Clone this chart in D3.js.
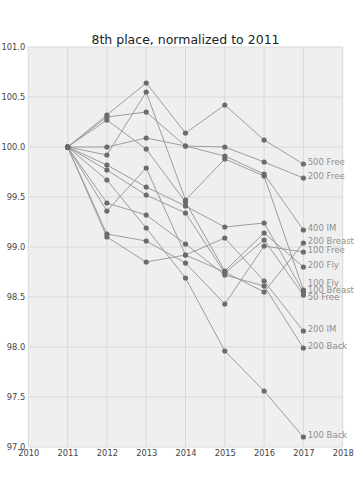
<!DOCTYPE html>
<html>
<head>
<meta charset="utf-8">
<script src="https://cdn.jsdelivr.net/npm/d3@7/dist/d3.min.js"></script>
<style>
html,body{margin:0;padding:0;background:#fff;}
svg{display:block;}
text{font-family:"DejaVu Sans",sans-serif;}
</style>
</head>
<body>
<svg id="chart" width="360" height="480"></svg>
<script>
const years = [2011, 2012, 2013, 2014, 2015, 2016, 2017];
const events = ["500 Free","200 Free","400 IM","200 Breast","100 Free","200 Fly","100 Fly","100 Breast","50 Free","200 IM","200 Back","100 Back"];
const free500   = [100, 100.32, 100.64, 100.14, 100.42, 100.07, 99.83];
const free200   = [100, 100.00, 100.09, 100.01, 100.00, 99.85, 99.69];
const im400     = [100, 100.30, 100.35, 100.01, 99.91, 99.73, 99.17];
const breast200 = [100, 99.36, 99.79, 98.92, 98.75, 98.55, 99.04];
const free100   = [100, 99.13, 99.06, 98.84, 98.43, 99.01, 98.95];
const fly200    = [100, 100.27, 99.98, 99.45, 98.76, 99.14, 98.80];
const fly100    = [100, 99.92, 100.55, 99.47, 99.88, 99.71, 98.57];
const breast100 = [100, 99.82, 99.60, 99.41, 99.20, 99.24, 98.55];
const free50    = [100, 99.77, 99.52, 99.34, 98.74, 99.07, 98.52];
const im200     = [100, 99.10, 98.85, 98.92, 99.09, 98.66, 98.16];
const back200   = [100, 99.44, 99.32, 99.03, 98.72, 98.61, 97.99];
const back100   = [100, 99.67, 99.19, 98.69, 97.96, 97.56, 97.10];
const seriesValues = [free500, free200, im400, breast200, free100, fly200, fly100, breast100, free50, im200, back200, back100];
const xTicks = [2010, 2011, 2012, 2013, 2014, 2015, 2016, 2017, 2018];
const yTicks = [97.0, 97.5, 98.0, 98.5, 99.0, 99.5, 100.0, 100.5, 101.0];
const title = "8th place, normalized to 2011";

const W = 360, H = 480;
const m = {left: 28.3, right: 17.3, top: 47, bottom: 33};
const svg = d3.select("#chart");

const x = d3.scaleLinear().domain([2010, 2018]).range([m.left, W - m.right]);
const y = d3.scaleLinear().domain([97, 101]).range([H - m.bottom, m.top]);

svg.append("rect")
  .attr("x", m.left).attr("y", m.top)
  .attr("width", W - m.left - m.right).attr("height", H - m.top - m.bottom)
  .attr("fill", "#efefef");

// grid
const g = svg.append("g");
g.selectAll("line.v").data(xTicks).join("line")
  .attr("x1", d => x(d)).attr("x2", d => x(d))
  .attr("y1", m.top).attr("y2", H - m.bottom)
  .attr("stroke", "#d9d9d9").attr("stroke-width", 1);
g.selectAll("line.h").data(yTicks).join("line")
  .attr("y1", d => y(d)).attr("y2", d => y(d))
  .attr("x1", m.left).attr("x2", W - m.right)
  .attr("stroke", "#d9d9d9").attr("stroke-width", 1);

// axes (labels only)
const xAxis = d3.axisBottom(x).tickValues(xTicks).tickFormat(d3.format("d")).tickSize(0).tickPadding(3);
const yAxis = d3.axisLeft(y).tickValues(yTicks).tickFormat(d3.format(".1f")).tickSize(0).tickPadding(3);
const gx = svg.append("g").attr("transform", `translate(0,${H - m.bottom})`).call(xAxis);
const gy = svg.append("g").attr("transform", `translate(${m.left},0)`).call(yAxis);
[gx, gy].forEach(a => {
  a.select(".domain").remove();
  a.selectAll("text").attr("font-family", "DejaVu Sans").attr("font-size", 8.3).attr("fill", "#444");
});

// lines
const line = d3.line().x((d, i) => x(years[i])).y(d => y(d));
const series = events.map((name, i) => ({name, values: seriesValues[i]}));
svg.append("g").selectAll("path").data(series).join("path")
  .attr("d", d => line(d.values))
  .attr("fill", "none").attr("stroke", "#9d9d9d").attr("stroke-width", 1);

const pts = svg.append("g");
series.forEach(s => {
  pts.selectAll(null).data(s.values).join("circle")
    .attr("cx", (d, i) => x(years[i])).attr("cy", d => y(d))
    .attr("r", 2.6).attr("fill", "#6b6b6b");
});

// end labels with simple collision avoidance
const labels = series.map(s => ({name: s.name, py: y(s.values[s.values.length - 1])}));
labels.forEach(l => l.ly = l.py);
labels.sort((a, b) => a.ly - b.ly);
const gap = 7;
for (let it = 0; it < 200; it++) {
  for (let i = 1; i < labels.length; i++) {
    const a = labels[i - 1], b = labels[i];
    const d = b.ly - a.ly;
    if (d < gap) {
      const shift = (gap - d) / 2;
      a.ly -= shift; b.ly += shift;
    }
  }
}
svg.append("g").selectAll("text").data(labels).join("text")
  .attr("x", x(2017) + 4.3).attr("y", d => d.ly + 0.5)
  .attr("font-size", 8.5).attr("fill", "#8f8f8f")
  .text(d => d.name);

svg.append("text")
  .attr("x", (m.left + W - m.right) / 2).attr("y", 44)
  .attr("text-anchor", "middle").attr("font-size", 12.5).attr("fill", "#222")
  .text(title);
</script>
</body>
</html>
